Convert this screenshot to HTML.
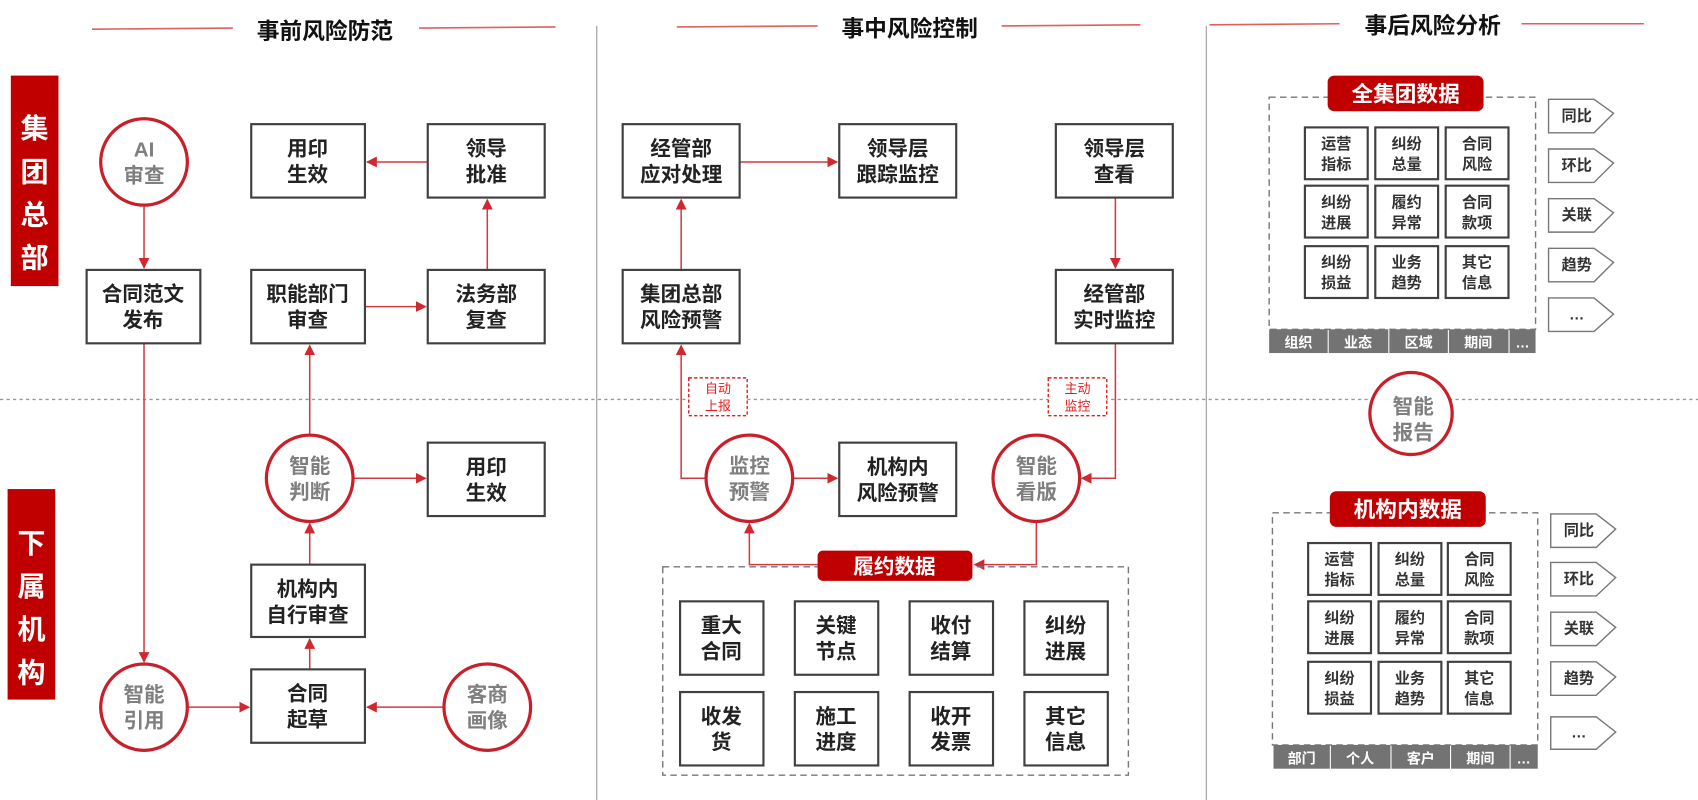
<!DOCTYPE html>
<html><head><meta charset="utf-8"><style>
html,body{margin:0;padding:0;background:#fff;}
svg{display:block;}
text{font-family:"Liberation Sans","Noto Sans CJK SC",sans-serif;font-weight:bold;text-anchor:middle;}
.b{fill:#222;font-size:19px;}
.c{fill:#7f7f7f;font-size:19px;}
.s{fill:#333;font-size:14px;}
.w{fill:#fff;}
.box{fill:#fff;stroke:#404040;stroke-width:2;}
.cir{fill:#fff;stroke:#c8202a;stroke-width:3;}
.ln{stroke:#d03a40;stroke-width:1.4;fill:none;}
.tl{stroke:#e06060;stroke-width:1.5;}
</style></head><body>
<svg width="1698" height="800" viewBox="0 0 1568 741" preserveAspectRatio="none" xmlns="http://www.w3.org/2000/svg">
<defs><marker id="a" markerWidth="10" markerHeight="10" refX="9" refY="5" orient="auto" markerUnits="userSpaceOnUse"><path d="M0,0 L10,5 L0,10 z" fill="#d0282e"/></marker></defs>
<!-- titles -->
<line class="tl" x1="85" y1="27" x2="215" y2="26"/><line class="tl" x1="387" y1="26" x2="513" y2="25"/>
<text x="300" y="36" style="font-size:21px;fill:#111">事前风险防范</text>
<line class="tl" x1="625" y1="25" x2="755" y2="24"/><line class="tl" x1="925" y1="24" x2="1053" y2="23"/>
<text x="840" y="34" style="font-size:21px;fill:#111">事中风险控制</text>
<line class="tl" x1="1117" y1="23" x2="1237" y2="22"/><line class="tl" x1="1405" y1="22" x2="1518" y2="22"/>
<text x="1323" y="31" style="font-size:21px;fill:#111">事后风险分析</text>
<line x1="551" y1="24" x2="551" y2="741" stroke="#aaa" stroke-width="1.2"/>
<line x1="1114" y1="24" x2="1114" y2="741" stroke="#aaa" stroke-width="1.2"/>
<line x1="0" y1="370" x2="1568" y2="370" stroke="#999" stroke-width="1.2" stroke-dasharray="3,3"/>
<!-- side labels -->
<rect x="10" y="70" width="44" height="195" fill="#c00000"/>
<text class="w" x="32" y="128" style="font-size:26px">集</text><text class="w" x="32" y="168" style="font-size:26px">团</text><text class="w" x="32" y="208" style="font-size:26px">总</text><text class="w" x="32" y="248" style="font-size:26px">部</text>
<rect x="7" y="453" width="44" height="195" fill="#c00000"/>
<text class="w" x="29" y="512" style="font-size:26px">下</text><text class="w" x="29" y="552" style="font-size:26px">属</text><text class="w" x="29" y="592" style="font-size:26px">机</text><text class="w" x="29" y="632" style="font-size:26px">构</text>

<!-- left connectors -->
<path class="ln" d="M133,190 V248" marker-end="url(#a)"/>
<path class="ln" d="M395,150 H339" marker-end="url(#a)"/>
<path class="ln" d="M450,250 V185" marker-end="url(#a)"/>
<path class="ln" d="M337,284 H393" marker-end="url(#a)"/>
<path class="ln" d="M133,318 V613" marker-end="url(#a)"/>
<path class="ln" d="M173,655 H230" marker-end="url(#a)"/>
<path class="ln" d="M410,655 H339" marker-end="url(#a)"/>
<path class="ln" d="M286,620 V592" marker-end="url(#a)"/>
<path class="ln" d="M286,523 V485" marker-end="url(#a)"/>
<path class="ln" d="M286,403 V320" marker-end="url(#a)"/>
<path class="ln" d="M326,443 H393" marker-end="url(#a)"/>
<!-- left nodes -->
<circle class="cir" cx="133" cy="150" r="40"/><text class="c" x="133" y="145">AI</text><text class="c" x="133" y="169">审查</text>
<rect class="box" x="80" y="250" width="105" height="68"/><text class="b" x="132" y="279">合同范文</text><text class="b" x="132" y="303">发布</text>
<rect class="box" x="232" y="115" width="105" height="68"/><text class="b" x="284" y="144">用印</text><text class="b" x="284" y="168">生效</text>
<rect class="box" x="395" y="115" width="108" height="68"/><text class="b" x="449" y="144">领导</text><text class="b" x="449" y="168">批准</text>
<rect class="box" x="232" y="250" width="105" height="68"/><text class="b" x="284" y="279">职能部门</text><text class="b" x="284" y="303">审查</text>
<rect class="box" x="395" y="250" width="108" height="68"/><text class="b" x="449" y="279">法务部</text><text class="b" x="449" y="303">复查</text>
<circle class="cir" cx="286" cy="443" r="40"/><text class="c" x="286" y="438">智能</text><text class="c" x="286" y="462">判断</text>
<rect class="box" x="395" y="410" width="108" height="68"/><text class="b" x="449" y="439">用印</text><text class="b" x="449" y="463">生效</text>
<rect class="box" x="232" y="523" width="105" height="67"/><text class="b" x="284" y="552">机构内</text><text class="b" x="284" y="576">自行审查</text>
<circle class="cir" cx="133" cy="655" r="40"/><text class="c" x="133" y="650">智能</text><text class="c" x="133" y="674">引用</text>
<rect class="box" x="232" y="620" width="105" height="68"/><text class="b" x="284" y="649">合同</text><text class="b" x="284" y="673">起草</text>
<circle class="cir" cx="450" cy="655" r="40"/><text class="c" x="450" y="650">客商</text><text class="c" x="450" y="674">画像</text>

<!-- middle connectors -->
<path class="ln" d="M652,443 H629 V320" marker-end="url(#a)"/>
<path class="ln" d="M629,250 V185" marker-end="url(#a)"/>
<path class="ln" d="M683,150 H773" marker-end="url(#a)"/>
<path class="ln" d="M1030,183 V248" marker-end="url(#a)"/>
<path class="ln" d="M1030,318 V443 H999" marker-end="url(#a)"/>
<path class="ln" d="M732,443 H773" marker-end="url(#a)"/>
<path class="ln" d="M755,523 H692 V485" marker-end="url(#a)"/>
<path class="ln" d="M957,483 V523 H900" marker-end="url(#a)"/>
<rect x="636" y="350" width="54" height="35" fill="#fff" stroke="#e02020" stroke-width="1.3" stroke-dasharray="3,2"/>
<text x="663" y="364" style="font-size:12px;fill:#e02020;font-weight:normal">自动</text><text x="663" y="380" style="font-size:12px;fill:#e02020;font-weight:normal">上报</text>
<rect x="968" y="350" width="54" height="35" fill="#fff" stroke="#e02020" stroke-width="1.3" stroke-dasharray="3,2"/>
<text x="995" y="364" style="font-size:12px;fill:#e02020;font-weight:normal">主动</text><text x="995" y="380" style="font-size:12px;fill:#e02020;font-weight:normal">监控</text>
<!-- middle nodes -->
<rect class="box" x="575" y="115" width="108" height="68"/><text class="b" x="629" y="144">经管部</text><text class="b" x="629" y="168">应对处理</text>
<rect class="box" x="775" y="115" width="108" height="68"/><text class="b" x="829" y="144">领导层</text><text class="b" x="829" y="168">跟踪监控</text>
<rect class="box" x="975" y="115" width="108" height="68"/><text class="b" x="1029" y="144">领导层</text><text class="b" x="1029" y="168">查看</text>
<rect class="box" x="575" y="250" width="108" height="68"/><text class="b" x="629" y="279">集团总部</text><text class="b" x="629" y="303">风险预警</text>
<rect class="box" x="975" y="250" width="108" height="68"/><text class="b" x="1029" y="279">经管部</text><text class="b" x="1029" y="303">实时监控</text>
<circle class="cir" cx="692" cy="443" r="40"/><text class="c" x="692" y="438">监控</text><text class="c" x="692" y="462">预警</text>
<rect class="box" x="775" y="410" width="108" height="68"/><text class="b" x="829" y="439">机构内</text><text class="b" x="829" y="463">风险预警</text>
<circle class="cir" cx="957" cy="443" r="40"/><text class="c" x="957" y="438">智能</text><text class="c" x="957" y="462">看版</text>
<rect x="612" y="525" width="430" height="193" fill="none" stroke="#777" stroke-width="1.3" stroke-dasharray="6,4"/>
<rect x="755" y="510" width="143" height="28" rx="5" fill="#c00000"/><text class="w" x="826" y="531" style="font-size:19px">履约数据</text>
<rect class="box" x="628" y="557" width="77" height="68"/><text class="b" x="666" y="586">重大</text><text class="b" x="666" y="610">合同</text>
<rect class="box" x="734" y="557" width="77" height="68"/><text class="b" x="772" y="586">关键</text><text class="b" x="772" y="610">节点</text>
<rect class="box" x="840" y="557" width="77" height="68"/><text class="b" x="878" y="586">收付</text><text class="b" x="878" y="610">结算</text>
<rect class="box" x="946" y="557" width="77" height="68"/><text class="b" x="984" y="586">纠纷</text><text class="b" x="984" y="610">进展</text>
<rect class="box" x="628" y="641" width="77" height="68"/><text class="b" x="666" y="670">收发</text><text class="b" x="666" y="694">货</text>
<rect class="box" x="734" y="641" width="77" height="68"/><text class="b" x="772" y="670">施工</text><text class="b" x="772" y="694">进度</text>
<rect class="box" x="840" y="641" width="77" height="68"/><text class="b" x="878" y="670">收开</text><text class="b" x="878" y="694">发票</text>
<rect class="box" x="946" y="641" width="77" height="68"/><text class="b" x="984" y="670">其它</text><text class="b" x="984" y="694">信息</text>

<!-- right top -->
<rect x="1172" y="90" width="246" height="215" fill="none" stroke="#777" stroke-width="1.3" stroke-dasharray="6,4"/>
<rect x="1226" y="70" width="144" height="33" rx="6" fill="#c00000"/><text class="w" x="1298" y="94" style="font-size:20px">全集团数据</text>
<g>
<rect class="box" x="1205" y="118" width="58" height="48"/><text class="s" x="1234" y="138">运营</text><text class="s" x="1234" y="157">指标</text>
<rect class="box" x="1270" y="118" width="58" height="48"/><text class="s" x="1299" y="138">纠纷</text><text class="s" x="1299" y="157">总量</text>
<rect class="box" x="1335" y="118" width="58" height="48"/><text class="s" x="1364" y="138">合同</text><text class="s" x="1364" y="157">风险</text>
<rect class="box" x="1205" y="172" width="58" height="48"/><text class="s" x="1234" y="192">纠纷</text><text class="s" x="1234" y="211">进展</text>
<rect class="box" x="1270" y="172" width="58" height="48"/><text class="s" x="1299" y="192">履约</text><text class="s" x="1299" y="211">异常</text>
<rect class="box" x="1335" y="172" width="58" height="48"/><text class="s" x="1364" y="192">合同</text><text class="s" x="1364" y="211">款项</text>
<rect class="box" x="1205" y="228" width="58" height="48"/><text class="s" x="1234" y="248">纠纷</text><text class="s" x="1234" y="267">损益</text>
<rect class="box" x="1270" y="228" width="58" height="48"/><text class="s" x="1299" y="248">业务</text><text class="s" x="1299" y="267">趋势</text>
<rect class="box" x="1335" y="228" width="58" height="48"/><text class="s" x="1364" y="248">其它</text><text class="s" x="1364" y="267">信息</text>
</g>
<g fill="#737373">
<rect x="1172" y="305" width="54" height="22"/><rect x="1227" y="305" width="55" height="22"/><rect x="1283" y="305" width="54" height="22"/><rect x="1338" y="305" width="55" height="22"/><rect x="1394" y="305" width="24" height="22"/>
</g>
<text class="w" x="1199" y="322" style="font-size:13px">组织</text><text class="w" x="1254" y="322" style="font-size:13px">业态</text><text class="w" x="1310" y="322" style="font-size:13px">区域</text><text class="w" x="1365" y="322" style="font-size:13px">期间</text><text class="w" x="1406" y="322" style="font-size:13px">…</text>
<g fill="#fff" stroke="#777" stroke-width="1.3">
<path d="M1430,92 H1472 L1490,105 L1472,123 H1430 Z"/>
<path d="M1430,138 H1472 L1490,151 L1472,169 H1430 Z"/>
<path d="M1430,184 H1472 L1490,197 L1472,215 H1430 Z"/>
<path d="M1430,230 H1472 L1490,243 L1472,261 H1430 Z"/>
<path d="M1430,276 H1472 L1490,291 L1472,307 H1430 Z"/>
</g>
<text class="s" x="1456" y="112">同比</text><text class="s" x="1456" y="158">环比</text><text class="s" x="1456" y="204">关联</text><text class="s" x="1456" y="250">趋势</text><text class="s" x="1456" y="296">…</text>

<circle class="cir" cx="1303" cy="383" r="38"/><text class="c" x="1305" y="383">智能</text><text class="c" x="1305" y="407">报告</text>

<!-- right bottom -->
<rect x="1175" y="475" width="245" height="215" fill="none" stroke="#777" stroke-width="1.3" stroke-dasharray="6,4"/>
<rect x="1228" y="455" width="144" height="33" rx="6" fill="#c00000"/><text class="w" x="1300" y="479" style="font-size:20px">机构内数据</text>
<g>
<rect class="box" x="1208" y="503" width="58" height="48"/><text class="s" x="1237" y="523">运营</text><text class="s" x="1237" y="542">指标</text>
<rect class="box" x="1273" y="503" width="58" height="48"/><text class="s" x="1302" y="523">纠纷</text><text class="s" x="1302" y="542">总量</text>
<rect class="box" x="1337" y="503" width="58" height="48"/><text class="s" x="1366" y="523">合同</text><text class="s" x="1366" y="542">风险</text>
<rect class="box" x="1208" y="557" width="58" height="48"/><text class="s" x="1237" y="577">纠纷</text><text class="s" x="1237" y="596">进展</text>
<rect class="box" x="1273" y="557" width="58" height="48"/><text class="s" x="1302" y="577">履约</text><text class="s" x="1302" y="596">异常</text>
<rect class="box" x="1337" y="557" width="58" height="48"/><text class="s" x="1366" y="577">合同</text><text class="s" x="1366" y="596">款项</text>
<rect class="box" x="1208" y="613" width="58" height="48"/><text class="s" x="1237" y="633">纠纷</text><text class="s" x="1237" y="652">损益</text>
<rect class="box" x="1273" y="613" width="58" height="48"/><text class="s" x="1302" y="633">业务</text><text class="s" x="1302" y="652">趋势</text>
<rect class="box" x="1337" y="613" width="58" height="48"/><text class="s" x="1366" y="633">其它</text><text class="s" x="1366" y="652">信息</text>
</g>
<g fill="#737373">
<rect x="1176" y="690" width="52" height="22"/><rect x="1229" y="690" width="55" height="22"/><rect x="1285" y="690" width="54" height="22"/><rect x="1340" y="690" width="54" height="22"/><rect x="1395" y="690" width="25" height="22"/>
</g>
<text class="w" x="1202" y="707" style="font-size:13px">部门</text><text class="w" x="1256" y="707" style="font-size:13px">个人</text><text class="w" x="1312" y="707" style="font-size:13px">客户</text><text class="w" x="1367" y="707" style="font-size:13px">期间</text><text class="w" x="1407" y="707" style="font-size:13px">…</text>
<g fill="#fff" stroke="#777" stroke-width="1.3">
<path d="M1432,476 H1474 L1492,490 L1474,507 H1432 Z"/>
<path d="M1432,521 H1474 L1492,535 L1474,552 H1432 Z"/>
<path d="M1432,567 H1474 L1492,581 L1474,598 H1432 Z"/>
<path d="M1432,613 H1474 L1492,627 L1474,644 H1432 Z"/>
<path d="M1432,664 H1474 L1492,678 L1474,694 H1432 Z"/>
</g>
<text class="s" x="1458" y="496">同比</text><text class="s" x="1458" y="541">环比</text><text class="s" x="1458" y="587">关联</text><text class="s" x="1458" y="633">趋势</text><text class="s" x="1458" y="683">…</text>
</svg>
</body></html>
